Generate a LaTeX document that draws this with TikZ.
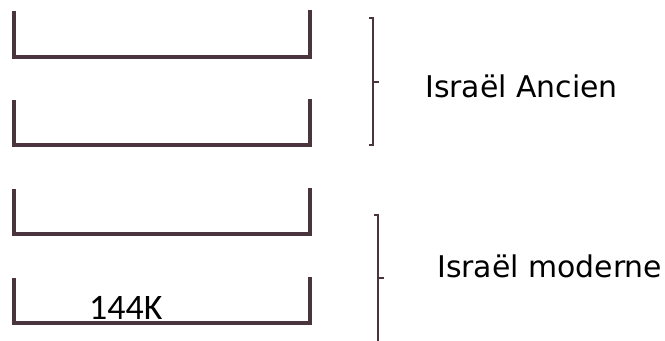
\documentclass[tikz,border=0pt]{standalone}
\usepackage{fontspec}
\setmainfont{DejaVu Sans}
\newfontfamily\numfont{Carlito}
\definecolor{plum}{RGB}{74,52,62}
\begin{document}
\begin{tikzpicture}[x=1bp,y=-1bp,
  tray/.style={draw=plum,line width=3.8bp,line join=miter},
  brace/.style={draw=plum,line width=2.8bp,line join=miter},
  lbl/.style={anchor=base west,inner sep=0pt,font=\fontsize{30}{34}\selectfont},
  numlbl/.style={anchor=base west,inner sep=0pt,font=\numfont\fontsize{36}{40}\selectfont}]
\useasboundingbox (0,0) rectangle (665,340);
% trays
\draw[tray] (14,11) -- (14,57) -- (310,57) -- (310,10);
\draw[tray] (14,100) -- (14,145) -- (310,145) -- (310,99);
\draw[tray] (14,189) -- (14,234) -- (310,234) -- (310,188);
\draw[tray] (14,278) -- (14,323) -- (310,323) -- (310,277);
\node[numlbl] (k) at (89,319) {144K};
% braces
\draw[brace] (369,18) -- (373,18) -- (373,145) -- (369,145);
\coordinate (ta) at (373,82);
\coordinate (tae) at (379,82);
\draw[brace] (ta) -- (tae);
\draw[brace] (374,215) -- (378,215) -- (378,345);
\coordinate (tb) at (378,278);
\coordinate (tbe) at (384,278);
\draw[brace] (tb) -- (tbe);
\node[lbl] (ancien) at (425,97) {Israël Ancien};
\node[lbl] (moderne) at (437,277) {Israël moderne};
\end{tikzpicture}
\end{document}
